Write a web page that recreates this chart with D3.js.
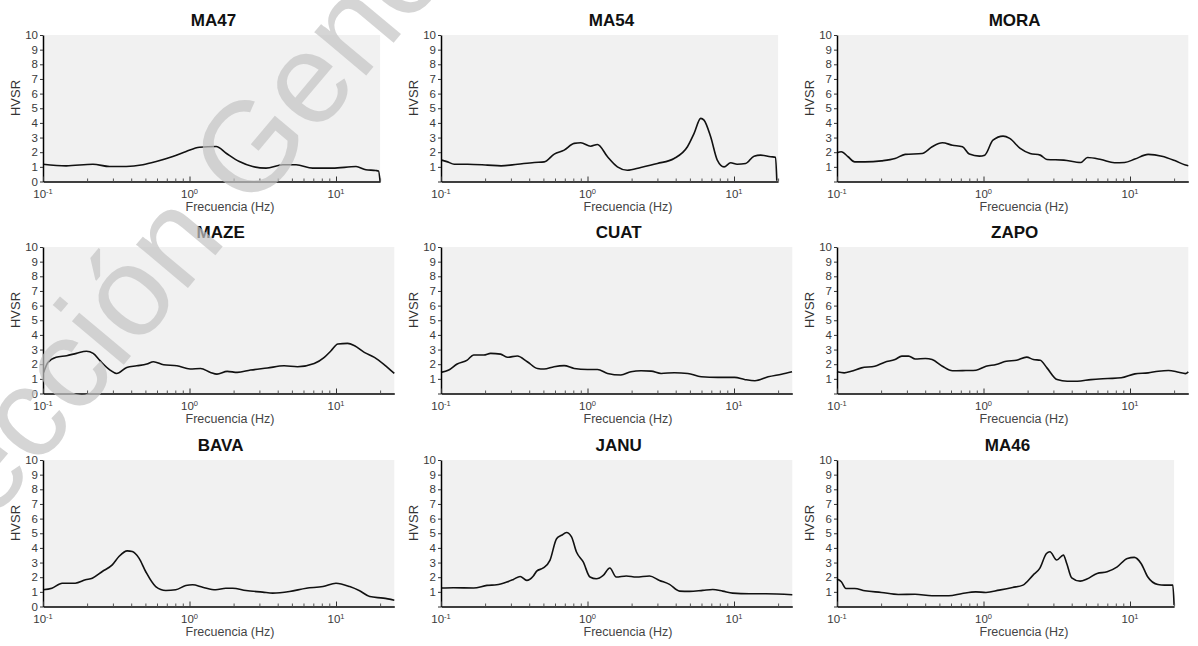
<!DOCTYPE html>
<html><head><meta charset="utf-8">
<script src="https://cdn.jsdelivr.net/npm/d3@7"></script>
<style>body{margin:0;background:#fff;} svg{display:block;font-family:"Liberation Sans",Arial,sans-serif;}</style>
</head><body><svg id="c" width="1198" height="646"></svg>
<script>
// ---------------- data ----------------
const stations = ["MA47","MA54","MORA","MAZE","CUAT","ZAPO","BAVA","JANU","MA46"];
const xMaxHz   = [20, 20, 25, 25, 25, 25, 25, 25, 20];
const showZero = [true, false, false, true, false, false, true, false, false];
const yTicks = [0,1,2,3,4,5,6,7,8,9,10];
const xMajorTicks = [0.1, 1, 10];
const xTickBase = "10";
const xTickExp = ["-1", "0", "1"];
const yLabel = "HVSR";
const xLabel = "Frecuencia (Hz)";
const watermark = "Dirección General";

const freqMA47 = [0.1,0.144,0.219,0.285,0.37,0.481,0.593,0.769,0.949,1.17,1.52,1.78,2.19,2.70,3.33,4.33,5.34,6.93,9.49,13.7,16.0,18.7,19.5,20];
const hvsrMA47 = [1.18,1.07,1.18,1.02,1.02,1.14,1.36,1.7,2.05,2.34,2.39,1.93,1.36,1.02,0.91,1.14,1.14,0.91,0.91,1.02,0.8,0.75,0.72,0];

const freqMA54 = [0.101,0.111,0.123,0.152,0.208,0.257,0.333,0.433,0.507,0.593,0.693,0.811,0.901,1.05,1.17,1.37,1.60,1.87,2.31,3.00,3.90,4.81,5.34,5.93,6.24,6.93,7.69,8.55,9.49,10.5,12.0,13.7,15.2,17.8,19.2,19.6];
const hvsrMA54 = [1.46,1.34,1.18,1.18,1.12,1.07,1.18,1.30,1.34,1.87,2.14,2.6,2.64,2.41,2.53,1.69,1.0,0.77,0.96,1.23,1.57,2.37,3.28,4.31,4.19,3.05,1.46,1.0,1.28,1.18,1.23,1.73,1.8,1.69,1.66,0.05];

const freqMORA = [0.1,0.107,0.119,0.132,0.155,0.201,0.249,0.292,0.381,0.446,0.524,0.614,0.719,0.800,0.937,1.02,1.16,1.36,1.51,1.78,2.08,2.44,2.71,3.53,4.61,5.13,6.34,7.84,9.19,10.8,13.3,16.5,20.4,23.9,25];
const hvsrMORA = [1.96,2.03,1.69,1.34,1.34,1.41,1.57,1.85,1.91,2.37,2.64,2.48,2.37,1.87,1.73,1.80,2.82,3.10,2.94,2.26,1.91,1.80,1.50,1.46,1.30,1.64,1.50,1.28,1.30,1.53,1.85,1.73,1.41,1.12,1.07];

const freqMAZE = [0.101,0.108,0.123,0.145,0.169,0.198,0.220,0.245,0.287,0.318,0.373,0.436,0.511,0.568,0.665,0.820,1.01,1.19,1.39,1.54,1.81,2.12,2.61,3.40,4.42,5.46,7.10,8.32,9.25,10.3,12.0,13.4,15.6,18.3,21.4,25];
const hvsrMAZE = [1.44,2.12,2.47,2.58,2.74,2.88,2.74,2.24,1.60,1.37,1.78,1.89,2.01,2.17,1.96,1.89,1.67,1.71,1.44,1.32,1.51,1.44,1.60,1.74,1.89,1.83,2.05,2.47,2.92,3.38,3.42,3.26,2.81,2.47,1.96,1.37];

const freqCUAT = [0.1,0.113,0.129,0.151,0.167,0.196,0.218,0.255,0.283,0.332,0.388,0.455,0.505,0.591,0.692,0.811,1.0,1.17,1.37,1.69,1.98,2.32,2.72,3.18,3.92,4.84,5.97,7.76,10.1,11.8,13.9,17.1,21.1,24.9];
const hvsrCUAT = [1.44,1.60,2.01,2.28,2.63,2.63,2.74,2.69,2.47,2.56,2.17,1.71,1.67,1.83,1.90,1.71,1.64,1.64,1.37,1.26,1.49,1.55,1.53,1.37,1.42,1.37,1.14,1.10,1.10,0.96,0.87,1.14,1.32,1.48];

const freqZAPO = [0.1,0.112,0.125,0.147,0.181,0.212,0.249,0.277,0.308,0.342,0.401,0.446,0.524,0.614,0.759,0.890,1.04,1.22,1.43,1.68,1.97,2.19,2.44,2.71,3.18,3.73,4.37,5.41,7.05,8.71,10.8,13.3,15.6,18.3,21.5,23.9,25];
const hvsrZAPO = [1.48,1.41,1.52,1.75,1.86,2.14,2.32,2.55,2.55,2.36,2.39,2.32,1.86,1.55,1.57,1.59,1.86,1.98,2.20,2.27,2.48,2.32,2.27,1.75,0.95,0.84,0.84,0.95,1.02,1.07,1.34,1.41,1.52,1.57,1.45,1.36,1.48];

const freqBAVA = [0.1,0.115,0.135,0.166,0.195,0.217,0.254,0.297,0.330,0.376,0.407,0.452,0.502,0.588,0.689,0.805,0.944,1.05,1.23,1.51,1.77,1.97,2.43,3.16,3.70,4.82,6.27,8.15,10.0,12.4,14.5,17.0,21.0,25];
const hvsrBAVA = [1.14,1.25,1.59,1.59,1.82,1.93,2.39,2.84,3.41,3.80,3.75,3.30,2.39,1.36,1.09,1.14,1.43,1.48,1.32,1.14,1.25,1.25,1.09,0.98,0.91,1.02,1.25,1.36,1.59,1.36,1.07,0.68,0.57,0.43];

const freqJANU = [0.1,0.122,0.167,0.206,0.240,0.281,0.312,0.347,0.385,0.427,0.450,0.499,0.554,0.615,0.665,0.719,0.778,0.841,0.935,1.04,1.15,1.28,1.42,1.57,1.84,2.15,2.65,3.10,3.63,4.25,4.97,6.12,7.16,8.37,9.79,12.7,16.5,25];
const hvsrJANU = [1.26,1.28,1.26,1.44,1.48,1.67,1.85,2.05,1.78,2.08,2.42,2.63,3.15,4.63,4.86,5.05,4.75,3.72,3.04,2.01,1.89,2.12,2.63,2.01,2.08,2.01,2.08,1.78,1.51,1.05,1.03,1.10,1.16,1.05,0.91,0.87,0.87,0.80];

const freqMA46 = [0.1,0.107,0.115,0.132,0.155,0.201,0.262,0.341,0.445,0.579,0.716,0.885,1.04,1.28,1.58,1.86,2.18,2.42,2.69,2.84,3.16,3.51,3.70,4.00,4.57,5.08,5.96,6.98,8.18,9.59,10.7,11.9,13.2,15.5,17.2,19.6,20];
const hvsrMA46 = [1.87,1.69,1.23,1.23,1.07,0.96,0.82,0.84,0.73,0.73,0.89,1.0,0.96,1.12,1.30,1.46,2.14,2.60,3.62,3.74,3.17,3.51,2.94,1.96,1.73,1.87,2.26,2.37,2.71,3.28,3.35,2.94,2.03,1.50,1.46,1.46,0.09];

const freqs = [freqMA47,freqMA54,freqMORA,freqMAZE,freqCUAT,freqZAPO,freqBAVA,freqJANU,freqMA46];
const hvsrs = [hvsrMA47,hvsrMA54,hvsrMORA,hvsrMAZE,hvsrCUAT,hvsrZAPO,hvsrBAVA,hvsrJANU,hvsrMA46];

// ---------------- layout ----------------
const svg = d3.select("#c");
const colLeft = [43, 441, 837];
const rowTop = [35, 247, 460];
const plotH = 146.5;
const decadePx = 146.5;

stations.forEach((name, i) => {
  const col = i % 3, row = Math.floor(i / 3);
  const left = colLeft[col], top = rowTop[row];
  const w = decadePx * Math.log10(xMaxHz[i] / 0.1);
  const x = d3.scaleLog().domain([0.1, xMaxHz[i]]).range([0, w]);
  const y = d3.scaleLinear().domain([0, 10]).range([plotH, 0]);
  const g = svg.append("g").attr("transform", `translate(${left},${top})`);

  g.append("rect").attr("width", w).attr("height", plotH).attr("fill", "#f1f1f1");

  const pts = freqs[i].map((f, k) => [f, hvsrs[i][k]]);
  const line = d3.line().x(d => x(d[0])).y(d => y(d[1])).curve(d3.curveMonotoneX);
  g.append("path").datum(pts).attr("d", line)
    .attr("fill", "none").attr("stroke", "#111").attr("stroke-width", 1.6)
    .attr("stroke-linejoin", "round");

  // y axis
  const ya = g.append("g").call(
    d3.axisLeft(y).tickValues(yTicks).tickSizeInner(3).tickSizeOuter(0).tickPadding(2)
      .tickFormat(d => (d === 0 && !showZero[i]) ? "" : d));
  ya.select(".domain").attr("stroke", "#000").attr("stroke-width", 1.5);
  ya.selectAll(".tick line").attr("stroke", "#333");
  ya.selectAll("text").attr("font-size", 11.5).attr("fill", "#3a3a3a")
    .attr("font-family", "Liberation Sans, Arial, sans-serif");

  // x axis (minor ticks inside)
  const minor = [];
  for (let e = -1; e <= 1; e++) for (let m = 2; m <= 9; m++) {
    const v = m * Math.pow(10, e);
    if (v <= xMaxHz[i] + 1e-9) minor.push(v);
  }
  const xa = g.append("g").attr("transform", `translate(0,${plotH})`).call(
    d3.axisBottom(x).tickValues(minor).tickSizeInner(-3).tickSizeOuter(0).tickFormat(""));
  xa.select(".domain").attr("stroke", "#000").attr("stroke-width", 1.5);
  xa.selectAll(".tick line").attr("stroke", "#555");
  const xb = g.append("g").attr("transform", `translate(0,${plotH})`).call(
    d3.axisBottom(x).tickValues(xMajorTicks).tickSizeInner(-5).tickSizeOuter(0).tickFormat(""));
  xb.select(".domain").remove();
  xb.selectAll(".tick line").attr("stroke", "#333");

  xMajorTicks.forEach((v, k) => {
    const t = g.append("text").attr("x", x(v)).attr("y", plotH + 16)
      .attr("text-anchor", "middle").attr("font-size", 11.5).attr("fill", "#3a3a3a");
    t.append("tspan").text(xTickBase);
    t.append("tspan").attr("dy", -4).attr("font-size", 7.5).text(xTickExp[k]);
  });

  // labels
  g.append("text").attr("x", w / 2 + 2).attr("y", -9).attr("text-anchor", "middle")
    .attr("font-size", 17).attr("font-weight", "bold").attr("fill", "#111").text(name);
  g.append("text").attr("x", 350 / 2 + 12).attr("y", plotH + 29).attr("text-anchor", "middle")
    .attr("font-size", 12.5).attr("fill", "#444").text(xLabel);
  g.append("text").attr("transform", `translate(-23,63) rotate(-90)`).attr("text-anchor", "middle")
    .attr("font-size", 13).attr("fill", "#333").text(yLabel);
});

// watermark
svg.append("text").attr("transform", "translate(-115,649) rotate(-50)")
  .attr("font-size", 128).attr("fill", "#c4c4c4").attr("opacity", 0.7)
  .text(watermark);
</script></body></html>
